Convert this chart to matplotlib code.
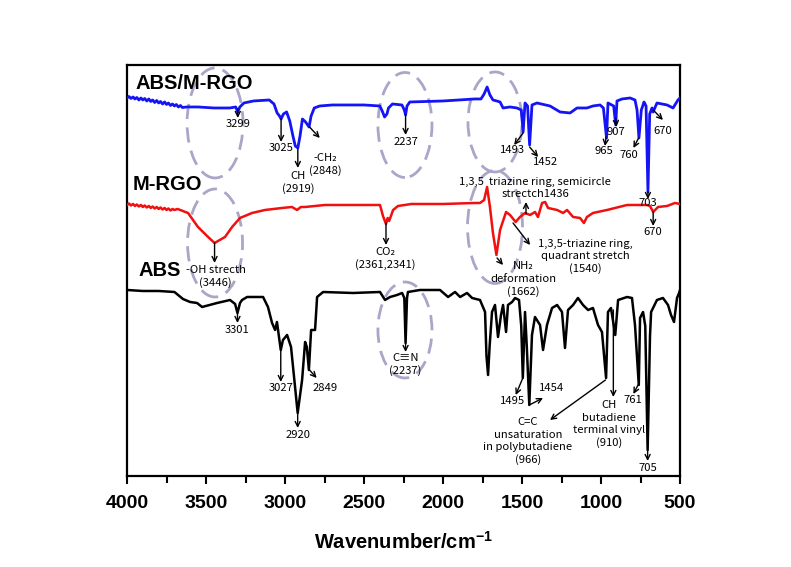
import matplotlib
matplotlib.use("Agg")
import matplotlib.pyplot as plt
from matplotlib.patches import Ellipse
from matplotlib.ticker import MultipleLocator

plt.rcParams['font.family'] = ['Liberation Sans', 'DejaVu Sans']
plt.rcParams['mathtext.fontset'] = 'custom'
plt.rcParams['mathtext.bf'] = 'Liberation Sans:bold'
plt.rcParams['mathtext.rm'] = 'Liberation Sans'

# ---- spectra (wavenumber / cm-1, transmittance a.u.) ----
abs_mrgo_wn = [4000, 3988, 3975, 3962, 3950, 3938, 3925, 3912, 3900, 3888, 3875, 3862, 3850, 3838,
               3825, 3812, 3800, 3788, 3775, 3762, 3750, 3738, 3725, 3712, 3700, 3688, 3675, 3662,
               3650, 3620, 3550, 3450, 3350, 3312,
               3299, 3286, 3260, 3200, 3100, 3070, 3050, 3035, 3025, 3010, 2990, 2970, 2950, 2935,
               2919, 2905, 2890, 2870, 2848, 2835, 2815, 2780, 2700, 2500, 2400, 2385, 2370, 2355,
               2345, 2320, 2260, 2245, 2237, 2228, 2210, 2000, 1800, 1760, 1740, 1721, 1703, 1684,
               1660, 1639, 1620, 1576, 1532, 1505, 1493, 1481, 1465, 1452, 1437, 1405, 1323, 1259,
               1196, 1152, 1089, 1051, 1006, 985, 965, 956, 920, 907, 899, 867, 816, 785, 772, 760,
               745, 734, 728, 715, 703, 692, 677, 670, 646, 582, 544, 513, 500]
abs_mrgo_t = [378, 379.5, 377.5, 379, 377, 378.5, 376, 378, 376, 377.5, 375, 377, 374.5, 376,
              373.5, 375.5, 373, 374.5, 372, 374, 371.5, 373, 370.5, 372, 370, 371.5, 369, 370.5,
              368.5, 369, 369, 368, 368, 369,
              364, 369, 373, 375, 376, 372, 363, 360, 357, 362, 364, 355, 340, 330,
              328, 340, 357, 354, 349, 360, 368, 370, 371, 371, 370, 365, 359, 362,
              368, 372, 371, 366, 361, 370, 374, 375, 377, 377, 382, 389, 381, 376,
              375, 374, 368, 369, 368, 366, 344, 373, 370, 331, 371, 373, 370, 364,
              363, 368, 368, 370, 371, 368, 338, 373, 370, 351, 375, 377, 378, 376, 366, 338,
              366, 371, 374, 370, 284, 362, 368, 364, 373, 371, 368, 376, 378]

mrgo_wn = [4000, 3988, 3975, 3962, 3950, 3938, 3925, 3912, 3900, 3888, 3875, 3862, 3850, 3838,
           3825, 3812, 3800, 3788, 3775, 3762, 3750, 3738, 3725, 3712, 3700, 3680, 3614, 3551,
           3487, 3446, 3380, 3335,
           3285, 3209, 3127, 3019, 2956, 2924, 2900, 2873, 2747, 2538, 2399, 2380, 2361, 2350,
           2341, 2316, 2285, 2200, 2000, 1800, 1766, 1740, 1721, 1703, 1684, 1662, 1639, 1601,
           1576, 1540, 1513, 1481, 1449, 1418, 1399, 1373, 1354, 1335, 1278, 1240, 1215, 1177,
           1133, 1108, 1089, 1051, 962, 835, 709, 690, 670, 639, 582, 532, 500]
mrgo_t = [271, 272.5, 270.5, 272, 270, 271.5, 269.5, 271, 269, 270.5, 268.5, 270, 268, 269.5,
          267.5, 269, 267, 268.5, 266.5, 268, 266, 267.5, 265.5, 267, 266, 267, 263, 249,
          239, 233, 239, 249,
          258, 263, 266, 268, 269, 266, 269, 269, 271, 271, 271, 260, 252, 258,
          255, 266, 270, 272, 272, 273, 273, 276, 289, 269, 243, 221, 246, 264,
          261, 254, 259, 263, 261, 264, 259, 273, 274, 268, 266, 263, 266, 259,
          258, 253, 259, 263, 266, 271, 271, 270, 264, 269, 270, 273, 272]

abs_wn = [4000, 3900, 3800, 3700, 3646, 3601, 3557, 3525, 3430, 3348, 3316, 3301, 3285, 3272,
          3240, 3139, 3108, 3082, 3063, 3051, 3027, 3013, 2987, 2962, 2920, 2892, 2873, 2862,
          2849, 2835, 2810, 2797, 2759, 2570, 2399, 2367, 2335, 2291, 2259, 2245, 2237, 2228,
          2222, 2146, 2019, 1968, 1924, 1892, 1848, 1816, 1766, 1734, 1725, 1715, 1705, 1690,
          1671, 1652, 1633, 1620, 1601, 1589, 1563, 1544, 1519, 1505, 1495, 1481, 1470, 1454,
          1437, 1418, 1386, 1367, 1342, 1310, 1278, 1247, 1228, 1209, 1177, 1146, 1114, 1082,
          1051, 1019, 994, 968, 956, 937, 910, 892, 835, 804, 785, 761, 753, 734, 720, 705,
          690, 683, 646, 608, 576, 557, 538, 519, 506, 500]
abs_t = [186, 185, 185, 184, 177, 174, 173, 169, 173, 176, 172, 163, 173, 176,
         179, 179, 169, 153, 146, 154, 126, 136, 141, 129, 63, 96, 134, 129,
         106, 146, 146, 179, 184, 183, 184, 176, 179, 181, 183, 178, 133, 178,
         184, 186, 186, 179, 184, 179, 183, 178, 176, 164, 120, 101, 130, 164,
         171, 139, 161, 171, 144, 171, 174, 178, 176, 150, 98, 164, 130, 71,
         141, 159, 151, 126, 151, 168, 171, 164, 128, 166, 171, 178, 171, 166,
         168, 151, 144, 98, 164, 168, 141, 176, 179, 178, 151, 91, 158, 164, 150, 26,
         140, 164, 176, 178, 171, 161, 154, 178, 183, 186]

# ---- peak labels: text lines, text position, arrow start, arrow end ----
BLUE_NOTES = [
    ("3299", (3299, 352), (3299, 367), (3299, 358)),
    ("3025", (3025, 328), (3025, 357), (3025, 334)),
    ("CH\n(2919)", (2919, 294), (2919, 327), (2919, 308)),
    ("-CH\u2082\n(2848)", (2747, 312), (2845, 349), (2780, 338)),
    ("2237", (2237, 334), (2237, 361), (2237, 341)),
    ("1493", (1563, 326), (1493, 343), (1550, 331)),
    ("1452", (1354, 314), (1452, 329), (1398, 319)),
    ("965", (981, 325), (968, 339), (975, 330)),
    ("907", (905, 344), (907, 358), (903, 349)),
    ("760", (823, 321), (762, 338), (795, 328)),
    ("670", (608, 345), (670, 366), (608, 356)),
    ("703", (703, 273), (703, 284), (703, 277)),
]
RED_NOTES = [
    ("-OH strecth\n(3446)", (3440, 200), (3446, 233), (3446, 213)),
    ("CO\u2082\n(2361,2341)", (2367, 218), (2361, 253), (2361, 231)),
    ("1,3,5  triazine ring, semicircle\nstrectch1436", (1418, 288), (1475, 262), (1475, 274)),
    ("1,3,5-triazine ring,\nquadrant stretch\n(1540)", (1101, 220), (1557, 253), (1449, 231)),
    ("NH\u2082\ndeformation\n(1662)", (1494, 197), (1658, 218), (1620, 211)),
    ("670", (670, 244), (670, 264), (670, 250)),
]
BLACK_NOTES = [
    ("3301", (3301, 146), (3301, 163), (3301, 153)),
    ("3027", (3027, 88), (3027, 126), (3027, 94)),
    ("2920", (2920, 41), (2920, 63), (2920, 48)),
    ("2849", (2747, 88), (2845, 106), (2800, 98)),
    ("C\u2261N\n(2237)", (2237, 112), (2237, 133), (2237, 124)),
    ("1495", (1557, 75), (1495, 98), (1540, 81)),
    ("1454", (1316, 88), (1454, 71), (1367, 78)),
    ("C=C\nunsaturation\nin polybutadiene\n(966)", (1462, 35), (972, 96), (1323, 56)),
    ("CH\nbutadiene\nterminal vinyl\n(910)", (949, 52), (922, 166), (922, 79)),
    ("761", (797, 76), (766, 91), (795, 82)),
    ("705", (705, 8), (705, 26), (705, 15)),
]

# dashed ellipses: centre (wn, T), width (cm-1), height (a.u.)
ELLIPSES = [
    ((3443, 353), 354, 110),
    ((3443, 233), 348, 108),
    ((2241, 351), 342, 105),
    ((2241, 146), 342, 96),
    ((1671, 354), 342, 100),
    ((1671, 249), 348, 113),
]

fig = plt.figure(figsize=(7.91, 5.67), dpi=100)
ax = fig.add_axes([0.1606, 0.1605, 0.6991, 0.7249])

for (c, w, h) in ELLIPSES:
    ax.add_patch(Ellipse(c, w, h, fill=False, edgecolor='#a9a6c8', lw=2.0,
                         linestyle=(0, (5.5, 3)), zorder=1))

ax.plot(abs_mrgo_wn, abs_mrgo_t, color='#1414f5', lw=2.0, zorder=3)
ax.plot(mrgo_wn, mrgo_t, color='#f01010', lw=1.8, zorder=3)
ax.plot(abs_wn, abs_t, color='black', lw=1.8, zorder=3)

note_font = ['Noto Sans CJK KR', 'DejaVu Sans']
line_step = 12.5  # spacing of stacked label lines, a.u.
for notes in (BLUE_NOTES, RED_NOTES, BLACK_NOTES):
    for text, pos, start, end in notes:
        ax.annotate('', xy=end, xytext=start,
                    arrowprops=dict(arrowstyle='->', color='black', lw=1.0,
                                    shrinkA=0, shrinkB=0, mutation_scale=9), zorder=4)
        lines = text.split('\n')
        top = pos[1] + line_step * (len(lines) - 1) / 2
        for i, line in enumerate(lines):
            ax.text(pos[0], top - i * line_step, line, ha='center', va='center',
                    fontsize=8.1, family=note_font, zorder=5)

ax.text(3949, 392, "ABS/M-RGO", fontsize=14.5, fontweight='bold', va='center', ha='left')
ax.text(3962, 291, "M-RGO", fontsize=14.5, fontweight='bold', va='center', ha='left')
ax.text(3930, 205, "ABS", fontsize=14.5, fontweight='bold', va='center', ha='left')

ax.set_xlim(4000, 500)
ax.set_ylim(0, 411)
ax.set_yticks([])
ax.xaxis.set_major_locator(MultipleLocator(500))
ax.xaxis.set_minor_locator(MultipleLocator(250))
ax.tick_params(axis='x', which='both', direction='out', width=1.5, labelsize=14, pad=8)
ax.tick_params(axis='x', which='major', length=6)
ax.tick_params(axis='x', which='minor', length=5)
for lab in ax.get_xticklabels():
    lab.set_fontweight('bold')
for sp in ax.spines.values():
    sp.set_linewidth(1.6)

ax.set_xlabel(r"Wavenumber/cm$^{\mathbf{-1}}$", fontsize=14.5, fontweight='bold', labelpad=13)

fig.savefig("out.png", dpi=100)
